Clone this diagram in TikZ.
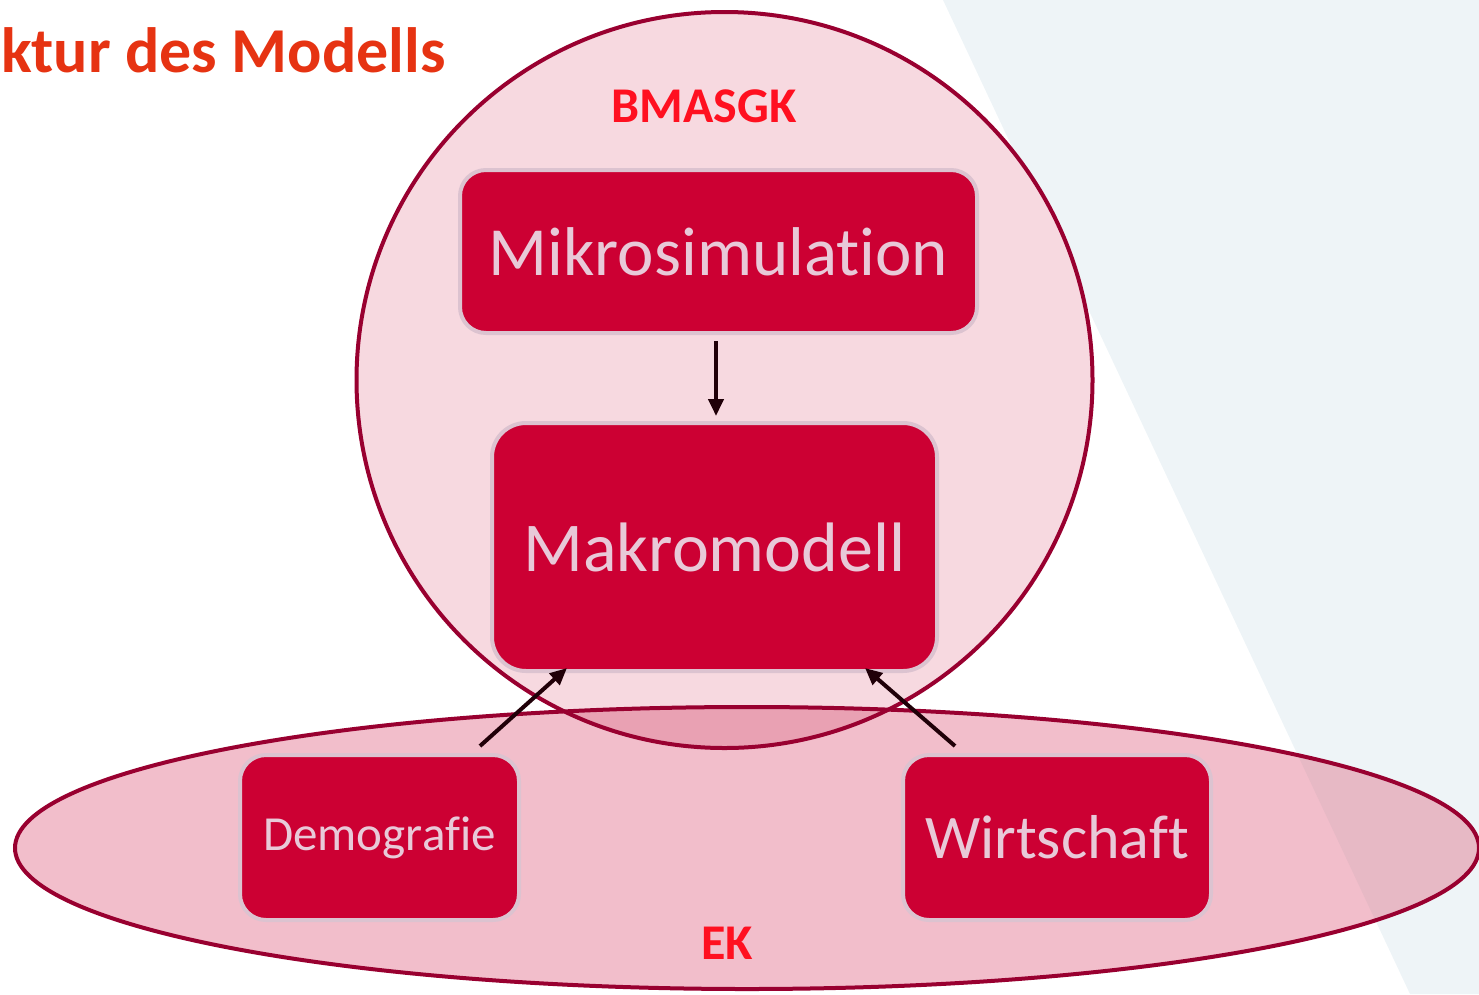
\documentclass[tikz,border=0pt]{standalone}
\usepackage{fontspec}
\setmainfont[Ligatures={NoCommon}]{Carlito}
\usetikzlibrary{calc,arrows.meta}
\definecolor{bgtri}{HTML}{EEF4F7}
\definecolor{circfill}{HTML}{F7D9E0}
\definecolor{ellfill}{HTML}{F2BECB}
\definecolor{overlapfill}{HTML}{E9A1B3}
\definecolor{elltri}{HTML}{E7B9C5}
\definecolor{outlinered}{HTML}{990030}
\definecolor{boxred}{HTML}{CC0033}
\definecolor{boxborder}{HTML}{DCC3D0}
\definecolor{boxtext}{HTML}{E8C9D8}
\definecolor{labelred}{HTML}{FF1020}
\definecolor{titlered}{HTML}{E63312}
\definecolor{arrowcol}{HTML}{200008}
\tikzset{
  box/.style={rectangle, rounded corners=26pt, fill=boxred, draw=boxborder, line width=4pt,
    inner sep=0pt, text=boxtext},
  grouplabel/.style={text=labelred, font=\fontsize{50}{54}\selectfont\bfseries, inner sep=0pt},
  flow/.style={draw=arrowcol, line width=4pt, -{Triangle[length=17pt,width=15pt]}},
  outline/.style={draw=outlinered, line width=4pt},
}
\begin{document}
\begin{tikzpicture}[x=1pt,y=-1pt]
\useasboundingbox (0,0) rectangle (1479,994);
% background wedge
\fill[bgtri] (943,0) -- (1479,0) -- (1479,994) -- (1410,994) -- cycle;
% fills
\fill[circfill] (724.5,380) circle (368);
\fill[ellfill] (747,848) ellipse (732 and 141);
\begin{scope}
  \clip (724.5,380) circle (368);
  \fill[overlapfill] (747,848) ellipse (732 and 141);
\end{scope}
\begin{scope}
  \clip (943,0) -- (1479,0) -- (1479,994) -- (1410,994) -- cycle;
  \fill[elltri] (747,848) ellipse (732 and 141);
\end{scope}
% outlines
\draw[outline] (747,848) ellipse (732 and 141);
\draw[outline] (724.5,380) circle (368);
% title
\node[anchor=west, text=titlered, inner sep=0pt, font=\fontsize{64}{68}\selectfont\bfseries] (title) at (1,50) {ktur des Modells};
% group labels
\node[grouplabel] (bmasgk) at (704,106) {BMASGK};
\node[grouplabel] (ek) at (727,943) {EK};
% boxes
\node[box, minimum width=517pt, minimum height=163pt, font=\fontsize{69}{72}\selectfont] (mikro) at (718.5,251.5) {Mikrosimulation};
\node[box, rounded corners=34pt, minimum width=445pt, minimum height=248pt, font=\fontsize{70}{74}\selectfont] (makro) at (714.5,547) {Makromodell};
\node[box, minimum width=279pt, minimum height=165pt, font=\fontsize{49}{52}\selectfont] (demo) at (379.5,837.5) {Demografie};
\node[box, minimum width=308pt, minimum height=165pt, font=\fontsize{62}{66}\selectfont] (wirt) at (1057,837.5) {Wirtschaft};
% connectors
\draw[flow] ($(mikro.south)+(-2.5,6)$) -- ($(makro.north)+(1.5,-5)$);
\draw[flow] ($(demo.north)+(100.5,-7)$) -- ($(makro.south)+(-147.5,-5)$);
\draw[flow] ($(wirt.north)+(-102,-7)$) -- ($(makro.south)+(150.5,-5)$);
\end{tikzpicture}
\end{document}
